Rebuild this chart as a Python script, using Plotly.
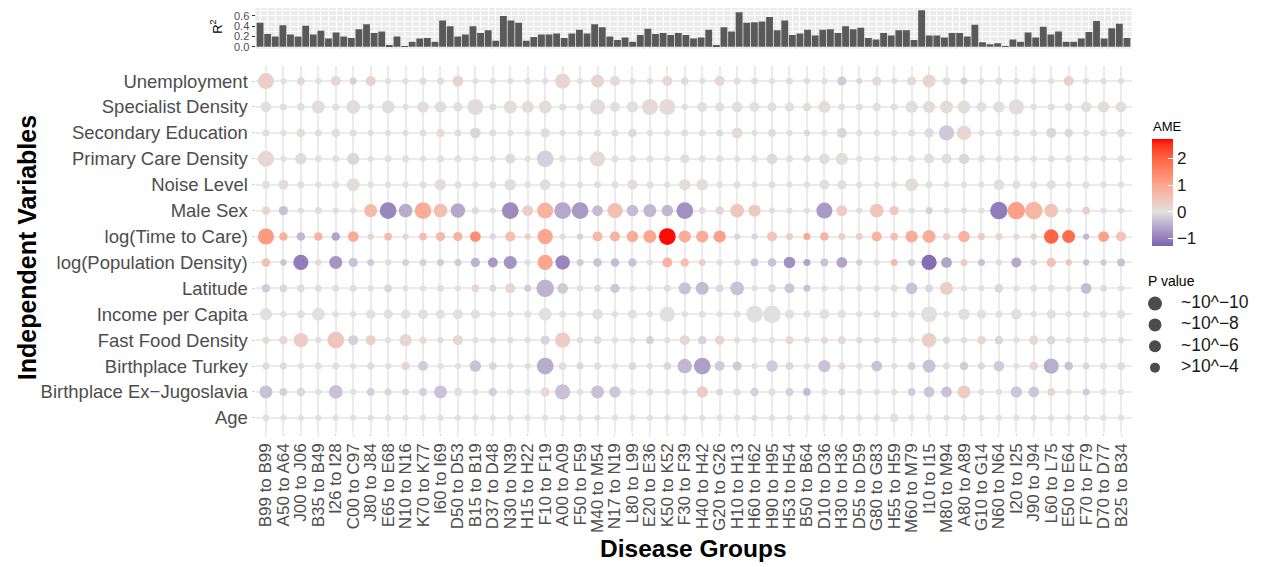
import plotly.graph_objects as go

# ---------------- data ----------------
disease_groups = ["B99 to B99", "A50 to A64", "J00 to J06", "B35 to B49", "I26 to I28", "C00 to C97",
                  "J80 to J84", "E65 to E68", "N10 to N16", "K70 to K77", "I60 to I69", "D50 to D53",
                  "B15 to B19", "D37 to D48", "N30 to N39", "H15 to H22", "F10 to F19", "A00 to A09",
                  "F50 to F59", "M40 to M54", "N17 to N19", "L80 to L99", "E20 to E36", "K50 to K52",
                  "F30 to F39", "H40 to H42", "G20 to G26", "H10 to H13", "H60 to H62", "H90 to H95",
                  "H53 to H54", "B50 to B64", "D10 to D36", "H30 to H36", "D55 to D59", "G80 to G83",
                  "H55 to H59", "M60 to M79", "I10 to I15", "M80 to M94", "A80 to A89", "G10 to G14",
                  "N60 to N64", "I20 to I25", "J90 to J94", "L60 to L75", "E50 to E64", "F70 to F79",
                  "D70 to D77", "B25 to B34"]

variables = ["Unemployment", "Specialist Density", "Secondary Education", "Primary Care Density",
             "Noise Level", "Male Sex", "log(Time to Care)", "log(Population Density)", "Latitude",
             "Income per Capita", "Fast Food Density", "Birthplace Turkey",
             "Birthplace Ex\u2212Jugoslavia", "Age"]

# R^2 of every model (top strip)
r2_values = [0.47, 0.25, 0.2, 0.42, 0.24, 0.2, 0.41, 0.24, 0.31, 0.16, 0.28, 0.2, 0.17, 0.34, 0.44,
             0.27, 0.3, 0.02, 0.2, 0.005, 0.1, 0.16, 0.17, 0.1, 0.51, 0.4, 0.2, 0.24, 0.4, 0.27, 0.32,
             0.12, 0.6, 0.51, 0.47, 0.12, 0.19, 0.24, 0.24, 0.26, 0.17, 0.26, 0.33, 0.26, 0.44, 0.38,
             0.2, 0.13, 0.18, 0.1, 0.23, 0.35, 0.25, 0.27, 0.23,
             0.27, 0.23, 0.16, 0.18, 0.33, 0.03, 0.38, 0.3, 0.67, 0.47, 0.48, 0.49, 0.58, 0.32, 0.51,
             0.23, 0.26, 0.33, 0.22, 0.33, 0.34, 0.27, 0.4, 0.34, 0.37, 0.17, 0.14, 0.27, 0.22, 0.32,
             0.32, 0.13, 0.71, 0.22, 0.22, 0.18, 0.27, 0.27, 0.2, 0.43, 0.09, 0.05, 0.07, 0.005, 0.14,
             0.1, 0.28, 0.18, 0.39, 0.24, 0.3, 0.1, 0.1, 0.16, 0.29, 0.5, 0.16, 0.36, 0.45, 0.17]
r2_models = list(range(1, len(r2_values) + 1))

# average marginal effects (AME) per variable, one value per disease group
ame_unemployment = [0.3, 0, 0.15, 0, 0.15, -0.15, 0.25, 0, 0, 0.1, 0.1, 0.25, 0, 0, 0, 0, 0, 0.2, 0, 0.2,
                    0.1, 0, 0, 0.15, 0.05, 0, 0.15, 0.02, 0.05, 0, 0.05, 0.1, 0, -0.2, -0.1, 0.1, 0, 0.1,
                    0.2, 0.05, -0.15, 0, 0.02, 0, 0, 0, 0.3, 0, 0.05, 0]
ame_specialist = [0.03, 0.01, 0.02, 0.05, 0.01, 0.05, 0, 0.05, 0, 0.05, 0.05, 0.03, 0.08, 0.01, 0.06,
                  0.05, 0.06, 0.01, 0.01, 0.07, 0.03, 0.04, 0.09, 0.1, 0, 0.04, 0.03, 0.04, 0.04, 0.03,
                  0.03, 0.06, 0.04, 0.01, 0.01, 0.03, 0.01, 0.05, 0.05, 0.06, 0.06, 0.03, 0.04, 0.06, 0,
                  0.01, 0.02, 0.04, 0.06, 0.04]
ame_secondary = [0.01, 0, 0.06, 0.01, 0.06, 0.01, 0, 0, 0, 0.01, 0.06, 0.01, -0.1, 0.01, 0, 0, 0.05, 0, 0,
                 0.01, 0.01, -0.06, 0, 0, 0.01, 0.01, -0.06, 0.1, 0, -0.05, 0, -0.08, 0, -0.1, 0, 0, 0,
                 0.01, -0.05, -0.22, 0.18, 0, 0.01, 0.01, 0.01, -0.1, -0.1, 0, 0.01, 0.05]
ame_primary = [0.15, 0, -0.05, 0, 0, -0.08, 0, 0, 0, 0, 0, 0, 0, 0, -0.06, 0, -0.15, 0, 0, 0.1, 0, 0, 0,
               0, -0.02, 0, 0, 0, 0, -0.06, 0, 0.1, -0.02, 0.06, 0, 0, 0, 0, 0.05, 0.05, -0.08, 0, 0, 0,
               0, 0, 0, 0, 0, 0]
ame_noise = [0.02, 0.05, 0.01, 0, 0.01, 0.06, 0, 0, 0, 0.01, 0.05, 0.01, 0, 0.01, 0.06, 0, 0.05, 0, 0,
             0.01, 0.01, 0.05, 0.01, 0, 0.06, 0.06, 0, 0.01, 0, 0.01, 0, 0, 0.02, 0.02, 0, 0, 0, 0.06,
             0.01, 0, 0, 0, 0.02, 0.01, 0.01, 0.03, 0, 0.01, 0, 0]
ame_male = [0.2, -0.3, 0, 0.1, 0.05, 0, 0.7, -0.9, -0.5, 0.9, 0.6, -0.55, 0.15, 0, -0.85, 0.3, 0.8,
            -0.55, -0.7, -0.35, 0.55, -0.35, -0.4, -0.4, -0.8, 0.05, 0.2, 0.45, 0.4, 0.02, 0.02, 0, -0.7,
            0.35, 0, 0.45, 0.4, 0, -0.15, 0.02, 0.02, 0, -1.0, 1.1, 0.75, 0.5, 0, 0.3, 0, 0.02]
ame_time = [1.2, 0.8, -0.4, 0.8, -0.6, 0.9, 0.2, 0.7, 0.2, 0.6, 0.7, 0.8, 1.4, -0.1, 0.6, 0.3, 1.0,
            0.05, -0.15, 0.7, 0.8, 0.9, 1.0, 2.7, 0.9, 0.9, 1.1, -0.1, -0.1, 0.5, 0.3, 1.0, 0.8,
            0.3, 0.3, 0.8, 0.6, 0.9, 0.9, 0.3, 0.8, 0.4, 0.2, 0.15, 0.2, 2.0, 1.9, -0.4, 1.1, 0.5]
ame_popdens = [0.6, -0.3, -1.0, 0.1, -0.75, -0.3, -0.2, 0.05, -0.15, -0.15, -0.2, -0.2, -0.45, -0.7,
               -0.75, 0, 1.0, -0.9, -0.2, -0.3, -0.35, -0.3, 0, 0.8, 0.6, 0.3, 0, 0.05, -0.3, -0.3, -0.8,
               -0.6, -0.3, -0.6, -0.15, 0, 0.7, -0.2, -1.15, -0.6, 0.4, -0.3, 0.05, -0.55, -0.1, 0.55,
               0.5, -0.3, -0.2, -0.3]
ame_latitude = [-0.2, -0.1, -0.02, -0.02, -0.02, -0.02, 0, -0.1, 0, 0, -0.02, 0, 0.15, -0.1, 0.2, -0.2,
                -0.45, -0.2, 0, -0.08, -0.25, 0.05, 0, 0.1, -0.3, -0.35, -0.08, -0.3, 0, -0.08, -0.25,
                -0.3, 0.05, 0, -0.02, 0, 0.1, -0.3, -0.08, 0.3, 0, 0, -0.1, 0, 0.08, 0, 0, -0.35, 0.08, 0]
ame_income = [0.0] * 50
ame_fastfood = [0.1, 0.15, 0.35, 0.05, 0.45, -0.15, 0.25, 0, 0.2, 0.1, 0.1, 0.2, 0, 0.05, 0.05, 0, -0.12,
                0.35, 0.05, 0.1, 0, 0, -0.15, 0, 0.15, -0.15, 0.2, 0.05, 0, 0, 0.15, 0.1, 0.08,
                0.1, -0.05, 0.05, 0, 0, 0.3, -0.1, 0.05, 0.2, -0.1, 0, 0.15, -0.1, 0, 0, 0, 0.08]
ame_turkey = [-0.05, -0.05, 0, 0, 0, 0, -0.05, 0, 0.2, -0.2, 0, 0, -0.3, -0.1, 0, 0.05, -0.5,
              -0.03, -0.08, -0.03, 0, -0.08, 0, -0.08, -0.4, -0.65, -0.2, -0.2, 0, -0.2, -0.08, 0, -0.3,
              0.15, 0, -0.3, 0, -0.15, -0.3, 0.05, -0.2, -0.08, -0.2, 0, 0.2, -0.5, -0.3, -0.08, 0.05, 0.1]
ame_exjug = [-0.3, -0.15, -0.08, 0, -0.3, 0, -0.15, -0.08, -0.08, -0.15, -0.3, -0.02, 0, -0.15, 0, 0, 0.15,
             -0.3, 0, -0.3, -0.25, 0, 0.05, 0, 0, 0.35, -0.08, -0.02, -0.15, 0.05, -0.15, -0.35, 0,
             -0.1, 0.03, 0, 0.03, -0.2, -0.25, -0.3, 0.35, 0, 0, -0.25, -0.25, 0.15, 0, -0.2, 0, 0]
ame_age = [0.0] * 50

# -log10(P value) per variable and disease group
nlp_unemployment = [14, 1, 3, 1, 6, 2, 6, 1, 1, 2, 2, 7, 1, 1, 1, 1, 1, 13, 1, 10, 6, 1, 1, 6, 3, 1, 6, 2, 2,
                    1, 2, 1, 1, 5, 1, 5, 1, 5, 10, 3, 2, 1, 2, 1, 1, 1, 6, 1, 1, 1]
nlp_specialist = [7, 2, 3, 10, 2, 11, 1, 10, 1, 8, 8, 5, 14, 2, 10, 9, 10, 2, 2, 13, 6, 8, 14, 14, 1, 6, 5,
                  7, 6, 5, 5, 4, 9, 2, 2, 4, 2, 9, 9, 10, 10, 6, 8, 13, 1, 2, 3, 7, 8, 7]
nlp_secondary = [2, 1, 4, 2, 4, 2, 1, 1, 1, 2, 4, 2, 7, 2, 1, 1, 5, 1, 1, 2, 2, 4, 1, 1, 2, 2, 2, 7, 1, 3, 1,
                 1, 1, 6, 1, 1, 1, 2, 5, 13, 12, 1, 2, 2, 2, 6, 4, 1, 2, 4]
nlp_primary = [14, 1, 8, 2, 2, 9, 1, 2, 2, 1, 2, 2, 1, 1, 6, 1, 15, 2, 1, 13, 2, 2, 2, 1, 5, 2, 2, 1, 2, 7,
               2, 2, 7, 9, 1, 1, 1, 2, 6, 6, 7, 2, 1, 1, 1, 2, 2, 1, 1, 2]
nlp_noise = [3, 6, 2, 1, 2, 10, 1, 1, 1, 2, 8, 2, 1, 2, 8, 1, 7, 1, 1, 2, 2, 6, 2, 1, 8, 8, 1, 2, 1, 2, 1, 1,
             6, 5, 1, 1, 1, 10, 2, 1, 1, 1, 7, 3, 2, 5, 1, 2, 1, 1]
nlp_male = [4, 5, 1, 2, 1, 1, 10, 15, 11, 15, 11, 12, 2, 1, 15, 7, 14, 15, 15, 7, 13, 8, 10, 8, 15, 2, 4, 11,
            9, 1, 1, 1, 14, 7, 1, 11, 5, 1, 2, 1, 1, 1, 16, 16, 16, 11, 1, 3, 1, 1]
nlp_time = [14, 4, 4, 4, 4, 7, 1, 3, 1, 3, 5, 5, 7, 1, 6, 1, 13, 1, 1, 6, 6, 8, 10, 15, 9, 9, 9, 1, 1, 6, 2,
            2, 4, 2, 2, 6, 3, 9, 10, 2, 8, 2, 2, 1, 1, 12, 10, 1, 7, 6]
nlp_popdens = [4, 1, 13, 1, 10, 5, 2, 1, 2, 2, 2, 2, 5, 6, 10, 1, 13, 12, 2, 4, 4, 4, 1, 6, 4, 2, 1, 1, 3, 4,
               8, 2, 3, 7, 1, 1, 2, 2, 13, 7, 2, 2, 1, 6, 1, 5, 1, 1, 1, 3]
nlp_latitude = [4, 3, 3, 2, 2, 2, 1, 3, 1, 1, 2, 1, 3, 2, 6, 2, 16, 7, 1, 2, 5, 1, 1, 2, 9, 10, 3, 11, 1, 3,
                6, 2, 1, 1, 1, 1, 2, 8, 3, 10, 1, 1, 4, 1, 2, 2, 1, 7, 2, 1]
nlp_income = [9, 1, 3, 10, 1, 1, 5, 5, 5, 6, 5, 6, 5, 1, 1, 2, 10, 2, 1, 7, 1, 5, 1, 13, 1, 2, 1, 2, 15, 16,
              5, 2, 6, 3, 1, 2, 2, 2, 14, 1, 8, 5, 2, 7, 1, 5, 1, 2, 2, 4]
nlp_fastfood = [2, 4, 12, 1, 15, 6, 6, 1, 9, 2, 1, 6, 1, 1, 1, 1, 5, 13, 1, 3, 1, 1, 3, 1, 6, 4, 5, 1, 1, 1,
                3, 1, 2, 3, 1, 1, 1, 1, 12, 2, 1, 4, 4, 1, 5, 4, 1, 1, 1, 1]
nlp_turkey = [2, 2, 1, 2, 2, 1, 2, 1, 4, 6, 1, 1, 8, 3, 1, 1, 15, 3, 2, 2, 1, 3, 1, 3, 12, 15, 6, 5, 1, 8, 3,
              1, 9, 2, 1, 7, 1, 3, 10, 2, 4, 2, 7, 1, 4, 13, 4, 2, 2, 3]
nlp_exjug = [10, 3, 4, 1, 11, 1, 3, 2, 2, 3, 10, 3, 1, 4, 1, 1, 5, 13, 1, 10, 8, 1, 2, 1, 1, 8, 2, 2, 4, 2,
             3, 3, 1, 2, 1, 1, 1, 3, 7, 7, 10, 1, 1, 8, 7, 3, 1, 2, 1, 1]
nlp_age = [2] + [1] * 35 + [4] + [1] * 13

ame_rows = [ame_unemployment, ame_specialist, ame_secondary, ame_primary, ame_noise, ame_male, ame_time,
            ame_popdens, ame_latitude, ame_income, ame_fastfood, ame_turkey, ame_exjug, ame_age]
nlp_rows = [nlp_unemployment, nlp_specialist, nlp_secondary, nlp_primary, nlp_noise, nlp_male, nlp_time,
            nlp_popdens, nlp_latitude, nlp_income, nlp_fastfood, nlp_turkey, nlp_exjug, nlp_age]

p_legend_labels = ["~10^\u221210", "~10^\u22128", "~10^\u22126", ">10^\u22124"]
p_legend_sizes = [14, 13, 12, 10]

# ---------------- colour scale (Lab interpolation like ggplot gradient2) ----------------
LOW, MID, HIGH = "#7A63AD", "#E0E0E0", "#FF0000"
CMIN, CMAX = -1.28, 2.75


def _lin(c):
    c = c / 255
    return c / 12.92 if c <= 0.04045 else ((c + 0.055) / 1.055) ** 2.4


def _gam(c):
    c = 12.92 * c if c <= 0.0031308 else 1.055 * c ** (1 / 2.4) - 0.055
    return int(round(min(max(c, 0), 1) * 255))


def hex2lab(h):
    r, g, b = [_lin(int(h[i:i + 2], 16)) for i in (1, 3, 5)]
    X = 0.4124 * r + 0.3576 * g + 0.1805 * b
    Y = 0.2126 * r + 0.7152 * g + 0.0722 * b
    Z = 0.0193 * r + 0.1192 * g + 0.9505 * b
    f = lambda t: t ** (1 / 3) if t > 0.008856 else 7.787 * t + 16 / 116
    fx, fy, fz = f(X / 0.95047), f(Y / 1.0), f(Z / 1.08883)
    return (116 * fy - 16, 500 * (fx - fy), 200 * (fy - fz))


def lab2hex(L, a, b):
    fy = (L + 16) / 116
    fx = fy + a / 500
    fz = fy - b / 200
    finv = lambda t: t ** 3 if t ** 3 > 0.008856 else (t - 16 / 116) / 7.787
    X, Y, Z = 0.95047 * finv(fx), finv(fy), 1.08883 * finv(fz)
    r = 3.2406 * X - 1.5372 * Y - 0.4986 * Z
    g = -0.9689 * X + 1.8758 * Y + 0.0415 * Z
    bb = 0.0557 * X - 0.2040 * Y + 1.0570 * Z
    return "#%02x%02x%02x" % (_gam(r), _gam(g), _gam(bb))


lo, mi, hi = hex2lab(LOW), hex2lab(MID), hex2lab(HIGH)
z0 = -CMIN / (CMAX - CMIN)
N = 12
colorscale = []
for i in range(N + 1):
    t = i / N
    colorscale.append([z0 * t, lab2hex(*[lo[k] + (mi[k] - lo[k]) * t for k in range(3)])])
for i in range(1, N + 1):
    t = i / N
    colorscale.append([1.0 if i == N else z0 + (1 - z0) * t,
                       lab2hex(*[mi[k] + (hi[k] - mi[k]) * t for k in range(3)])])

# ---------------- build long-format bubble data ----------------
xs, ys, cs, ss = [], [], [], []
for r, var in enumerate(variables):
    for c, grp in enumerate(disease_groups):
        xs.append(grp)
        ys.append(var)
        cs.append(ame_rows[r][c])
        ss.append(5.5 + 0.75 * nlp_rows[r][c])

W, H = 1266, 567
px = lambda v: v / W
py = lambda v: 1 - v / H

FONT = "Liberation Sans, Arial, sans-serif"
AXIS_TXT = "#4D4D4D"

fig = go.Figure()

fig.add_trace(go.Scatter(
    x=xs, y=ys, mode="markers", xaxis="x", yaxis="y",
    marker=dict(size=ss, sizemode="diameter", color=cs, colorscale=colorscale,
                cmin=CMIN, cmax=CMAX, line=dict(width=0), opacity=1,
                colorbar=dict(
                    x=px(1152), xanchor="left", y=py(193.5), yanchor="middle",
                    len=107, lenmode="pixels", thickness=21, thicknessmode="pixels",
                    outlinewidth=0, xpad=0, ypad=0,
                    tickmode="array", tickvals=[-1, 0, 1, 2], ticktext=["\u22121", "0", "1", "2"],
                    ticks="inside", ticklen=5, tickcolor="white", tickwidth=1,
                    tickfont=dict(size=17, color="#1A1A1A", family=FONT),
                )),
    hovertemplate="%{y}<br>%{x}<br>AME=%{marker.color}<extra></extra>",
    showlegend=False,
))

fig.add_trace(go.Bar(
    x=r2_models, y=r2_values, xaxis="x2", yaxis="y2",
    marker=dict(color="#595959", line=dict(width=0)), width=0.9, showlegend=False,
))

# P value size legend
legend_pos = list(range(len(p_legend_labels)))
fig.add_trace(go.Scatter(
    x=[15] * 4, y=legend_pos, xaxis="x3", yaxis="y3", mode="markers",
    marker=dict(size=p_legend_sizes, color="black", line=dict(width=0)),
    hoverinfo="skip", showlegend=False,
))
fig.add_trace(go.Scatter(
    x=[41] * 4, y=legend_pos, xaxis="x3", yaxis="y3", mode="text",
    text=p_legend_labels, textposition="middle right",
    textfont=dict(size=17.5, color="#1A1A1A", family=FONT),
    hoverinfo="skip", showlegend=False,
))

fig.update_layout(
    width=W, height=H, margin=dict(l=0, r=0, t=0, b=0),
    paper_bgcolor="white", plot_bgcolor="white",
    font=dict(family=FONT, color=AXIS_TXT),
    showlegend=False, bargap=0.1,
    xaxis=dict(
        domain=[px(255.5), px(1131.5)], anchor="y", type="category",
        categoryorder="array", categoryarray=disease_groups,
        range=[-0.6, len(disease_groups) - 0.4],
        tickmode="array", tickvals=disease_groups, ticktext=disease_groups,
        tickangle=-90, tickfont=dict(size=17, color=AXIS_TXT),
        ticks="outside", ticklen=2, tickcolor="#D0D0D0",
        showgrid=True, gridcolor="#EBEBEB", gridwidth=1.5, zeroline=False, showline=False,
    ),
    yaxis=dict(
        domain=[py(436.5), py(66)], anchor="x", type="category",
        categoryorder="array", categoryarray=variables,
        range=[len(variables) - 0.4, -0.6],
        tickmode="array", tickvals=variables, ticktext=variables,
        tickfont=dict(size=18.5, color=AXIS_TXT),
        ticks="outside", ticklen=3, tickcolor="#D0D0D0",
        showgrid=True, gridcolor="#EBEBEB", gridwidth=1.5, zeroline=False, showline=False,
    ),
    xaxis2=dict(
        domain=[px(255.5), px(1131.5)], anchor="y2",
        range=[0.4, len(r2_values) + 0.6], showticklabels=False, ticks="",
        tickmode="linear", tick0=1, dtick=1,
        showgrid=True, gridcolor="white", gridwidth=1, zeroline=False, showline=False,
    ),
    yaxis2=dict(
        domain=[py(49), py(8)], anchor="x2",
        range=[-0.036, 0.756], tickmode="linear", tick0=0, dtick=0.2, tickformat=".1f",
        tickfont=dict(size=11, color=AXIS_TXT), ticks="outside", ticklen=3, tickcolor="#333333",
        showgrid=True, gridcolor="white", gridwidth=1, zeroline=False, showline=False,
        minor=dict(tick0=0, dtick=0.1, showgrid=True, gridcolor="white", gridwidth=0.5),
    ),
    xaxis3=dict(domain=[px(1140), 1.0], anchor="y3", range=[0, 126], visible=False, fixedrange=True),
    yaxis3=dict(domain=[py(381), py(295)], anchor="x3", range=[3.5, -0.5], visible=False, fixedrange=True),
)

# inner panel background of the R^2 strip (theme_grey look)
fig.update_layout(shapes=[dict(type="rect", xref="paper", yref="paper", layer="below",
                               x0=px(255.5), x1=px(1131.5), y0=py(49), y1=py(8),
                               fillcolor="#EBEBEB", line=dict(width=0))])

fig.update_layout(annotations=[
    dict(text="<b>Independent Variables</b>", xref="paper", yref="paper", x=px(27), y=py(250),
         xanchor="center", yanchor="middle",
         textangle=-90, showarrow=False, font=dict(size=25, color="black")),
    dict(text="<b>Disease Groups</b>", xref="paper", yref="paper", x=px(693), y=py(552),
         xanchor="center", yanchor="middle",
         showarrow=False, font=dict(size=24.5, color="black")),
    dict(text="R<sup>2</sup>", xref="paper", yref="paper", x=px(216), y=py(27),
         xanchor="center", yanchor="middle",
         textangle=-90, showarrow=False, font=dict(size=13, color="black")),
    dict(text="AME", xref="paper", yref="paper", x=px(1151), y=py(127), xanchor="left",
         yanchor="middle", showarrow=False, font=dict(size=13, color="black")),
    dict(text="P value", xref="paper", yref="paper", x=px(1146), y=py(283), xanchor="left",
         yanchor="middle", showarrow=False, font=dict(size=14, color="black")),
])

# the page body has a default 8px margin; remove it so the figure fills the window exactly
fig.write_html("out.html", config={"displayModeBar": False},
               post_script="document.body.style.margin='0';")
